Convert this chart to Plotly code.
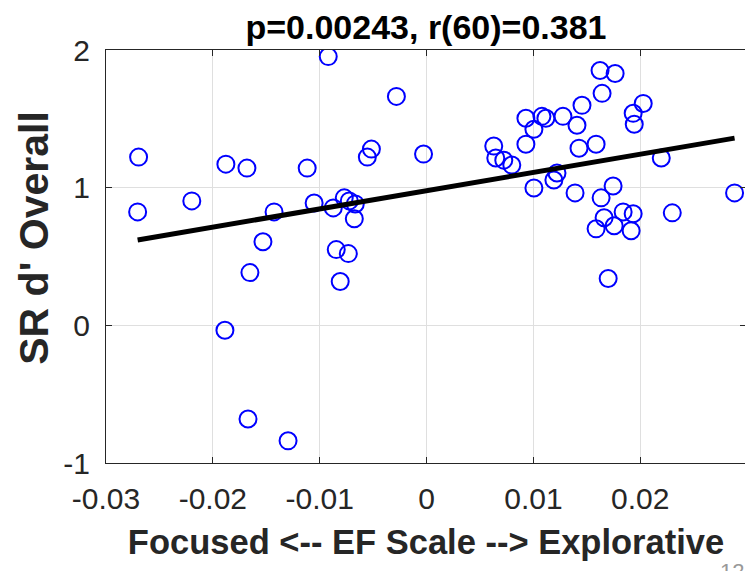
import plotly.graph_objects as go

# EF scale (x) and SR d' overall (y) per participant
ef_scale = [-0.02695, -0.02704, -0.02197, -0.01878, -0.01681, -0.01117, -0.01427, -0.01052,
            -0.01531, -0.01653, -0.01887, -0.01671, -0.01296, -0.00920, -0.00282, -0.00516,
            -0.00554, -0.00028, -0.00873, -0.00770, -0.00667, -0.00676, -0.00845, -0.00732,
            -0.00808, 0.00629, 0.00648, 0.00723, 0.00798, 0.00930, 0.01005, 0.00930,
            0.01080, 0.01277, 0.01408, 0.01455, 0.01624, 0.01765, 0.01643, 0.02028,
            0.01934, 0.01944, 0.01427, 0.01587, 0.02197, 0.01221, 0.01192, 0.01005,
            0.01390, 0.01746, 0.01634, 0.01662, 0.01587, 0.01756, 0.01840, 0.01934,
            0.01915, 0.02300, 0.02883, 0.01700, -0.00723, 0.01117]
sr_dprime = [1.222, 0.824, 0.904, 1.171, 1.142, 1.142, 0.824, 0.889,
             0.607, 0.383, -0.036, -0.680, -0.839, 1.952, 1.663, 1.280,
             1.222, 1.244, 0.853, 0.926, 0.882, 0.774, 0.550, 0.521,
             0.318, 1.302, 1.215, 1.200, 1.164, 1.316, 1.424, 1.504,
             1.518, 1.518, 1.453, 1.598, 1.851, 1.829, 1.685, 1.612,
             1.540, 1.461, 1.287, 1.316, 1.215, 1.106, 1.056, 0.998,
             0.962, 1.012, 0.926, 0.781, 0.701, 0.723, 0.824, 0.810,
             0.687, 0.817, 0.962, 0.340, 0.904, 1.504]

# least-squares fit line end points
fit_x = [-0.02704, 0.02883]
fit_y = [0.62, 1.36]

x_ticks = [-0.03, -0.02, -0.01, 0, 0.01, 0.02]
x_tick_labels = ["-0.03", "-0.02", "-0.01", "0", "0.01", "0.02"]
y_ticks = [-1, 0, 1, 2]
y_tick_labels = ["-1", "0", "1", "2"]

title_text = "p=0.00243, r(60)=0.381"
x_title = "Focused <-- EF Scale --> Explorative"
y_title = "SR d' Overall"
page_number = "12"

FONT = "Liberation Sans, Arial, sans-serif"

fig = go.Figure()
fig.add_trace(go.Scatter(
    x=ef_scale, y=sr_dprime, mode="markers",
    marker=dict(symbol="circle-open", size=17, color="#0000ff", line=dict(width=2, color="#0000ff")),
    showlegend=False, hoverinfo="skip"))
fig.add_trace(go.Scatter(
    x=fit_x, y=fit_y, mode="lines",
    line=dict(color="black", width=5), showlegend=False, hoverinfo="skip"))

axis_common = dict(
    showline=True, linecolor="#262626", linewidth=1, mirror="ticks",
    ticks="inside", ticklen=6, tickcolor="#262626", tickwidth=1,
    showgrid=True, gridcolor="#dfdfdf", gridwidth=1, zeroline=False,
    automargin=False,
    tickfont=dict(family=FONT, size=30, color="#262626"),
)

# page has an 8px body margin, so the figure is 745x563 placed at (8, 8)
fig.update_layout(
    width=745, height=563,
    paper_bgcolor="white", plot_bgcolor="white",
    margin=dict(l=98, r=7, t=42, b=108),
    title=dict(text=title_text, x=0.5, xanchor="center", xref="paper",
               y=1 - 19 / 563, yref="container", yanchor="middle",
               font=dict(family=FONT, size=34, color="black", weight="bold")),
    xaxis=dict(range=[-0.03, 0.0299], tickvals=x_ticks, ticktext=x_tick_labels,
               ticklabelstandoff=9,
               title=dict(text=x_title, standoff=15,
                          font=dict(family=FONT, size=34.5, color="#262626", weight="bold")),
               **axis_common),
    yaxis=dict(range=[-1, 2], tickvals=y_ticks, ticktext=y_tick_labels,
               ticklabelstandoff=9,
               **axis_common),
)

fig.add_annotation(text=y_title, textangle=-90, xref="paper", yref="paper",
                   x=0, y=(454.5 - 230) / 412.5, xanchor="center", yanchor="middle",
                   xshift=-71.5, showarrow=False,
                   font=dict(family=FONT, size=41, color="#262626", weight="bold"))

fig.add_annotation(text=page_number, xref="paper", yref="paper", x=1.0, y=-0.228, xanchor="right", yanchor="top",
                   showarrow=False, font=dict(family=FONT, size=22, color="#999999"))

fig.write_html("out.html")
